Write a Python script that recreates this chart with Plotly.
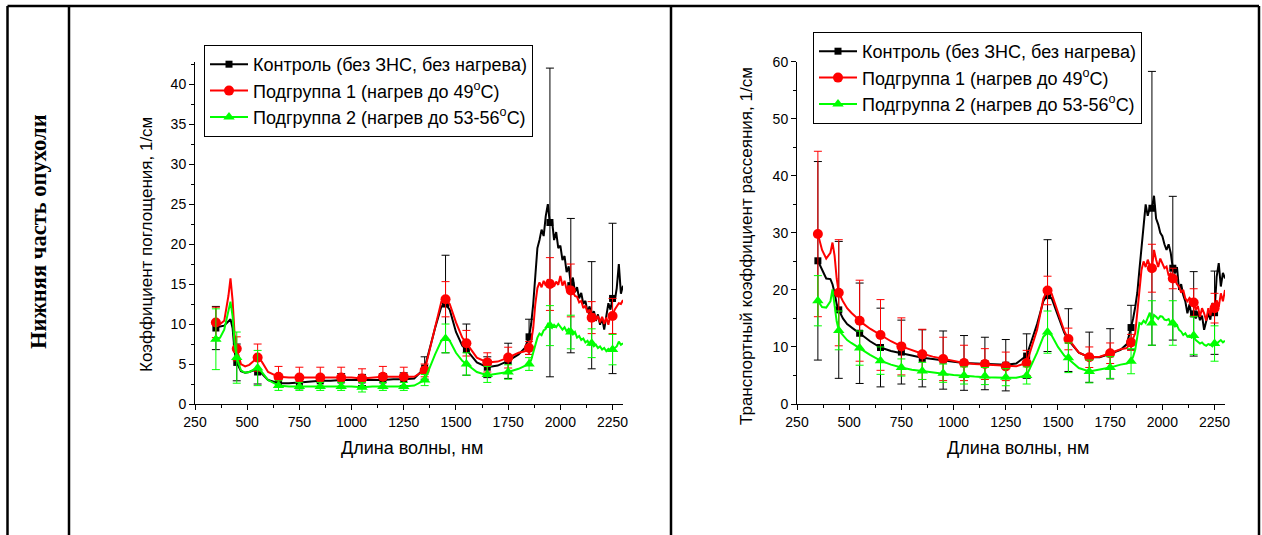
import plotly.graph_objects as go

# ---------------- data ----------------
# wavelength grid of the continuous spectra (nm)
WL_A = [350, 370, 390, 410, 420, 430, 440, 450, 470, 490, 510, 530, 550, 570,
        600, 650, 700, 750, 800, 850, 900, 950, 1000, 1050, 1100, 1150, 1200,
        1250, 1300, 1350, 1400, 1430, 1450, 1470, 1500, 1530, 1550, 1600, 1650,
        1700, 1750, 1800, 1830, 1850]
WL_B = list(range(1860, 2310, 10))
WL = WL_A + WL_B

# wavelengths of the symbols / error bars
MW = [350, 450, 550, 650, 750, 850, 950, 1050, 1150, 1250, 1350, 1450, 1550,
      1650, 1750, 1850, 1950, 2050, 2150, 2250]

# absorption coefficient, 1/cm (continuous lines)
ABS_CTRL_A = [9.5, 9.7, 9.8, 10.3, 10.6, 9.5, 6.5, 5.2, 4.1, 3.9, 4.0, 4.2, 4.1, 3.8,
              3.0, 2.6, 2.6, 2.7, 2.8, 2.9, 2.9, 3.0, 3.0, 3.0, 3.0, 3.0, 3.1, 3.1,
              3.2, 4.5, 9.5, 12.2, 12.5, 11.8, 9.0, 7.3, 6.8, 5.2, 4.6, 4.8, 5.4,
              6.2, 7.0, 8.4]
ABS_CTRL_B = [10.0, 12.5, 16.0, 19.5, 20.5, 21.8, 21.0, 23.5, 25.0, 22.5,
              23.0, 20.5, 21.5, 19.5, 19.8, 18.0, 18.5, 16.5, 17.2, 15.0,
              15.8, 14.0, 14.6, 13.2, 13.9, 12.5, 12.9, 11.5, 12.2, 11.0,
              11.6, 10.4, 11.2, 9.9, 10.8, 9.3, 11.0, 12.6, 11.8, 13.3,
              12.8, 14.5, 17.5, 13.8, 14.8]
ABS_H1_A = [10.2, 10.0, 10.4, 13.5, 15.7, 13.0, 8.5, 6.9, 5.0, 4.7, 4.9, 5.4, 5.8, 5.3,
            4.0, 3.4, 3.3, 3.3, 3.3, 3.3, 3.3, 3.3, 3.3, 3.2, 3.3, 3.4, 3.4, 3.4,
            3.4, 4.2, 9.8, 12.8, 13.1, 12.5, 10.2, 8.3, 7.6, 5.8, 5.2, 5.3, 5.8,
            6.4, 6.6, 7.0]
ABS_H1_B = [7.8, 9.5, 12.5, 14.5, 15.2, 14.6, 15.4, 14.8, 15.6, 15.0,
            15.5, 14.7, 15.3, 14.9, 16.0, 14.8, 15.4, 14.3, 14.8, 14.2,
            14.0, 13.5, 13.4, 12.7, 12.9, 12.0, 12.3, 11.4, 11.8, 10.8,
            11.3, 10.5, 11.0, 10.2, 10.9, 10.0, 10.8, 9.9, 11.2, 11.0,
            11.8, 12.2, 12.6, 12.5, 13.0]
ABS_H2_A = [8.1, 8.3, 9.3, 11.5, 12.8, 11.0, 7.5, 5.8, 4.2, 3.9, 4.0, 4.3, 4.5, 4.0,
            3.0, 2.3, 2.2, 2.2, 2.2, 2.2, 2.2, 2.2, 2.2, 2.1, 2.2, 2.2, 2.2, 2.2,
            2.3, 3.0, 6.2, 7.9, 8.2, 7.9, 6.4, 5.4, 5.0, 4.0, 3.6, 3.8, 4.0,
            4.4, 4.7, 5.0]
ABS_H2_B = [5.5, 6.5, 7.6, 8.3, 8.8, 8.6, 9.2, 9.4, 10.0, 9.8,
            9.5, 9.9, 9.6, 10.0, 9.7, 9.3, 9.6, 9.1, 9.4, 9.0,
            8.7, 9.0, 8.3, 8.5, 8.0, 8.2, 7.7, 7.9, 7.4, 7.6,
            7.2, 7.4, 7.0, 7.2, 6.8, 7.0, 6.6, 6.9, 6.7, 6.8,
            7.0, 7.2, 7.8, 7.4, 7.6]

# absorption: symbol values and error bars
ABS_CTRL_M = [9.5, 5.2, 4.0, 2.6, 2.7, 2.9, 3.0, 3.0, 3.0, 3.1, 4.5, 12.5, 6.8, 4.6,
              5.4, 8.4, 22.7, 14.8, 11.1, 13.2]
ABS_CTRL_E = [2.7, 2.3, 1.5, 0.5, 0.8, 0.7, 0.8, 0.7, 0.8, 0.8, 1.4, 6.1, 3.2, 1.3,
              2.2, 2.2, 19.3, 8.4, 6.7, 9.4]
ABS_H1_M = [10.2, 6.9, 5.8, 3.4, 3.3, 3.3, 3.3, 3.2, 3.4, 3.4, 4.2, 13.1, 7.6, 5.2,
            5.8, 7.0, 15.0, 14.2, 10.8, 11.0]
ABS_H1_E = [1.9, 1.5, 1.7, 1.3, 1.3, 1.3, 1.3, 1.2, 1.3, 1.2, 0.8, 2.2, 1.6, 1.2,
            1.3, 0.8, 3.3, 3.3, 2.0, 2.2]
ABS_H2_M = [8.1, 5.8, 4.5, 2.3, 2.2, 2.2, 2.2, 2.1, 2.2, 2.2, 3.0, 8.2, 5.0, 3.7,
            4.0, 5.0, 9.8, 9.0, 7.6, 6.8]
ABS_H2_E = [3.8, 3.2, 2.2, 0.6, 0.5, 0.5, 0.5, 0.6, 0.5, 0.5, 0.7, 1.8, 1.4, 1.0,
            0.9, 0.8, 2.5, 2.1, 1.8, 1.9]

# transport scattering coefficient, 1/cm (continuous lines)
SCA_CTRL_A = [25.1, 23.5, 22.0, 21.9, 21.0, 19.5, 17.5, 16.5, 15.0, 14.0, 13.4, 12.9,
              12.4, 11.8, 11.0, 9.9, 9.3, 8.9, 8.5, 8.1, 7.9, 7.6, 7.4, 7.2, 7.1,
              7.1, 7.0, 6.9, 7.1, 8.5, 14.0, 18.0, 19.2, 18.5, 15.5, 12.5, 11.2,
              9.0, 8.2, 8.2, 8.8, 9.5, 10.5, 13.4]
SCA_CTRL_B = [15.0, 17.0, 19.5, 23.5, 27.5, 31.5, 35.0, 33.0, 34.5, 34.3,
              36.5, 32.5, 31.5, 30.0, 29.4, 28.0, 27.0, 28.0, 26.5, 23.8,
              22.9, 24.0, 20.0, 21.0, 19.1, 18.0, 15.9, 17.5, 15.3, 15.8,
              15.0, 16.2, 14.7, 15.5, 13.0, 14.5, 15.9, 14.8, 17.7, 16.2,
              22.3, 24.7, 20.6, 23.0, 22.0]
SCA_H1_A = [29.8, 27.0, 25.5, 26.5, 28.3, 26.0, 22.0, 19.5, 18.0, 16.8, 16.0, 15.3,
            14.6, 14.0, 13.2, 12.1, 11.0, 10.1, 9.4, 8.8, 8.3, 7.9, 7.5, 7.2, 7.0,
            6.9, 6.7, 6.6, 6.6, 7.2, 13.0, 18.5, 20.0, 19.3, 16.0, 12.8, 11.4,
            9.0, 8.2, 8.3, 8.9, 9.6, 9.8, 10.8]
SCA_H1_B = [11.5, 12.4, 16.0, 20.6, 23.5, 25.0, 24.0, 25.3, 24.2, 23.8,
            27.0, 25.3, 24.0, 25.5, 24.7, 23.8, 24.1, 22.5, 22.9, 22.0,
            21.8, 21.0, 20.6, 19.5, 20.0, 18.5, 18.0, 18.6, 18.2, 17.8,
            16.5, 17.2, 15.3, 16.8, 15.9, 14.6, 16.8, 15.5, 17.7, 16.8,
            18.2, 17.0, 19.4, 18.0, 20.0]
SCA_H2_A = [18.1, 17.0, 16.9, 18.0, 20.1, 17.5, 14.5, 12.9, 12.0, 11.2, 10.7, 10.2,
            9.8, 9.3, 8.6, 7.6, 6.9, 6.4, 6.0, 5.8, 5.5, 5.3, 5.1, 4.9, 4.8,
            4.7, 4.6, 4.6, 4.6, 5.0, 9.0, 11.8, 12.5, 12.0, 10.0, 8.5, 7.9,
            6.3, 5.7, 6.0, 6.4, 6.9, 7.1, 7.5]
SCA_H2_B = [8.3, 9.5, 11.5, 14.2, 14.0, 14.6, 14.2, 15.0, 16.0, 14.3,
            15.6, 15.3, 14.9, 15.4, 15.3, 14.8, 14.7, 14.9, 14.2, 14.0,
            13.6, 13.8, 13.0, 12.7, 12.1, 12.4, 11.8, 12.0, 11.6, 11.8,
            11.2, 10.9, 10.6, 10.8, 10.4, 10.2, 10.5, 10.4, 10.1, 10.6,
            10.6, 10.9, 11.2, 10.8, 11.1]

# scattering: symbol values and error bars
SCA_CTRL_M = [25.1, 16.5, 12.4, 9.9, 9.1, 8.0, 7.7, 7.2, 7.1, 6.8, 8.4, 19.0, 11.2,
              8.2, 8.8, 13.4, 34.3, 23.8, 15.8, 16.0]
SCA_CTRL_E = [17.4, 12.0, 8.8, 6.9, 5.6, 5.0, 5.1, 4.8, 4.6, 4.5, 3.9, 9.8, 5.5,
              4.4, 4.4, 3.9, 24.0, 12.6, 7.4, 7.3]
SCA_H1_M = [29.8, 19.5, 14.6, 12.1, 10.1, 8.7, 7.9, 7.2, 7.0, 6.6, 7.2, 19.9, 11.4,
            8.2, 8.9, 10.8, 23.8, 22.0, 17.8, 16.8]
SCA_H1_E = [14.5, 9.3, 7.1, 6.2, 5.0, 4.4, 3.8, 3.1, 2.7, 2.5, 2.2, 2.5, 1.9, 1.8,
            1.8, 1.4, 4.2, 1.8, 2.4, 2.6]
SCA_H2_M = [18.1, 12.9, 9.8, 7.6, 6.4, 5.8, 5.4, 5.0, 4.9, 4.7, 5.0, 12.6, 8.1, 5.7,
            6.4, 7.5, 14.2, 14.2, 12.0, 10.6]
SCA_H2_E = [4.4, 3.4, 3.0, 2.4, 1.5, 1.5, 1.6, 1.5, 1.5, 1.5, 1.5, 3.7, 2.6, 2.0,
            1.9, 2.2, 3.9, 3.9, 3.3, 3.1]

NAMES = ["Контроль (без ЗНС, без нагрева)",
         "Подгруппа 1 (нагрев до 49<sup>o</sup>C)",
         "Подгруппа 2 (нагрев до 53-56<sup>o</sup>C)"]
COLORS = ["#000000", "#FF0000", "#00FF00"]
SYMBOLS = ["square", "circle", "triangle-up"]
SIZES = [7, 10, 10]

X_TITLE = "Длина волны, нм"
Y_TITLE_L = "Коэффициент поглощения, 1/см"
Y_TITLE_R = "Транспортный коэффициент рассеяния, 1/см"
ROW_LABEL = "Нижняя часть опухоли"

# ---------------- figure ----------------
W, H = 1262, 535
FONT = "Liberation Sans, Arial, sans-serif"


def px(x):
    return x / W


def py(y):
    return 1 - y / H


fig = go.Figure()

panels = [
    ("x", "y", "legend",
     [ABS_CTRL_A + ABS_CTRL_B, ABS_H1_A + ABS_H1_B, ABS_H2_A + ABS_H2_B],
     [ABS_CTRL_M, ABS_H1_M, ABS_H2_M], [ABS_CTRL_E, ABS_H1_E, ABS_H2_E]),
    ("x2", "y2", "legend2",
     [SCA_CTRL_A + SCA_CTRL_B, SCA_H1_A + SCA_H1_B, SCA_H2_A + SCA_H2_B],
     [SCA_CTRL_M, SCA_H1_M, SCA_H2_M], [SCA_CTRL_E, SCA_H1_E, SCA_H2_E]),
]

for xa, ya, lg, lines, marks, errs in panels:
    for i in range(3):
        fig.add_trace(go.Scatter(
            x=WL, y=lines[i], mode="lines", xaxis=xa, yaxis=ya,
            line=dict(color=COLORS[i], width=2), showlegend=False,
            hoverinfo="skip"))
        fig.add_trace(go.Scatter(
            x=MW, y=marks[i], mode="markers", xaxis=xa, yaxis=ya,
            marker=dict(symbol=SYMBOLS[i], size=SIZES[i], color=COLORS[i],
                        line=dict(width=0)),
            error_y=dict(type="data", array=errs[i], visible=True,
                         color=COLORS[i], thickness=1, width=4),
            showlegend=False))
    for i in range(3):
        fig.add_trace(go.Scatter(
            x=[None], y=[None], mode="lines+markers", xaxis=xa, yaxis=ya,
            name=NAMES[i], legend=lg,
            line=dict(color=COLORS[i], width=2),
            marker=dict(symbol=SYMBOLS[i], size=SIZES[i], color=COLORS[i])))

Y0, Y1 = 404, 61.7
axis_common = dict(
    showline=True, linecolor="black", linewidth=1, mirror=False,
    showgrid=False, zeroline=False, ticks="outside", ticklen=5,
    tickwidth=1, tickcolor="black", automargin=False,
    tickfont=dict(family=FONT, size=14, color="black"),
)

LEG = dict(xanchor="left", yanchor="top", bgcolor="white",
           bordercolor="black", borderwidth=1,
           font=dict(family=FONT, size=18, color="black"),
           tracegroupgap=0, itemwidth=38)

fig.update_layout(
    width=W, height=H, autosize=False,
    margin=dict(l=0, r=0, t=0, b=0, pad=0, autoexpand=False),
    paper_bgcolor="white", plot_bgcolor="white",
    font=dict(family=FONT, color="black"),
    xaxis=dict(axis_common, domain=[px(195), px(623)], range=[250, 2300],
               tick0=250, dtick=250, anchor="y",
               minor=dict(dtick=125, tick0=250, ticks="outside", ticklen=3,
                          tickcolor="black")),
    yaxis=dict(axis_common, domain=[py(Y0), py(Y1)], range=[0, 42.8],
               tick0=0, dtick=5, anchor="x",
               minor=dict(dtick=2.5, ticks="outside", ticklen=3,
                          tickcolor="black")),
    xaxis2=dict(axis_common, domain=[px(797), px(1225)], range=[250, 2300],
                tick0=250, dtick=250, anchor="y2",
                minor=dict(dtick=125, tick0=250, ticks="outside", ticklen=3,
                           tickcolor="black")),
    yaxis2=dict(axis_common, domain=[py(Y0), py(Y1)], range=[0, 60],
                tick0=0, dtick=10, anchor="x2",
                minor=dict(dtick=5, ticks="outside", ticklen=3,
                           tickcolor="black")),
    legend=dict(LEG, x=px(204), y=py(45)),
    legend2=dict(LEG, x=px(813), y=py(32)),
)

TF = dict(family=FONT, size=18, color="black")
YF = dict(family=FONT, size=17, color="black")
ann = [
    dict(text=X_TITLE, x=px(412), y=py(448), xref="paper", yref="paper",
         showarrow=False, xanchor="center", yanchor="middle", font=TF),
    dict(text=X_TITLE, x=px(1018), y=py(448), xref="paper", yref="paper",
         showarrow=False, xanchor="center", yanchor="middle", font=TF),
    dict(text=Y_TITLE_L, x=px(147), y=py(245), xref="paper", yref="paper",
         showarrow=False, xanchor="center", yanchor="middle", textangle=-90,
         font=YF),
    dict(text=Y_TITLE_R, x=px(747), y=py(246), xref="paper", yref="paper",
         showarrow=False, xanchor="center", yanchor="middle", textangle=-90,
         font=YF),
    dict(text="<b>" + ROW_LABEL + "</b>", x=px(38), y=py(232), xref="paper",
         yref="paper", showarrow=False, xanchor="center", yanchor="middle",
         textangle=-90,
         font=dict(family="Liberation Serif, Times New Roman, serif", size=22.5,
                   color="black")),
]
fig.update_layout(annotations=ann)

# table frame
frame = [
    (7.5, 6, 1259, 6),      # top
    (7.5, 6, 7.5, 535),     # left
    (69, 6, 69, 535),       # after row label
    (671, 6, 671, 535),     # between panels
    (1259, 6, 1259, 535),   # right
]
for x0, y0, x1, y1 in frame:
    fig.add_shape(type="line", xref="paper", yref="paper",
                  x0=px(x0), y0=py(y0), x1=px(x1), y1=py(y1),
                  line=dict(color="black", width=2.5))

fig.write_html("out.html", config={"displayModeBar": False},
               post_script="document.body.style.margin='0';")
